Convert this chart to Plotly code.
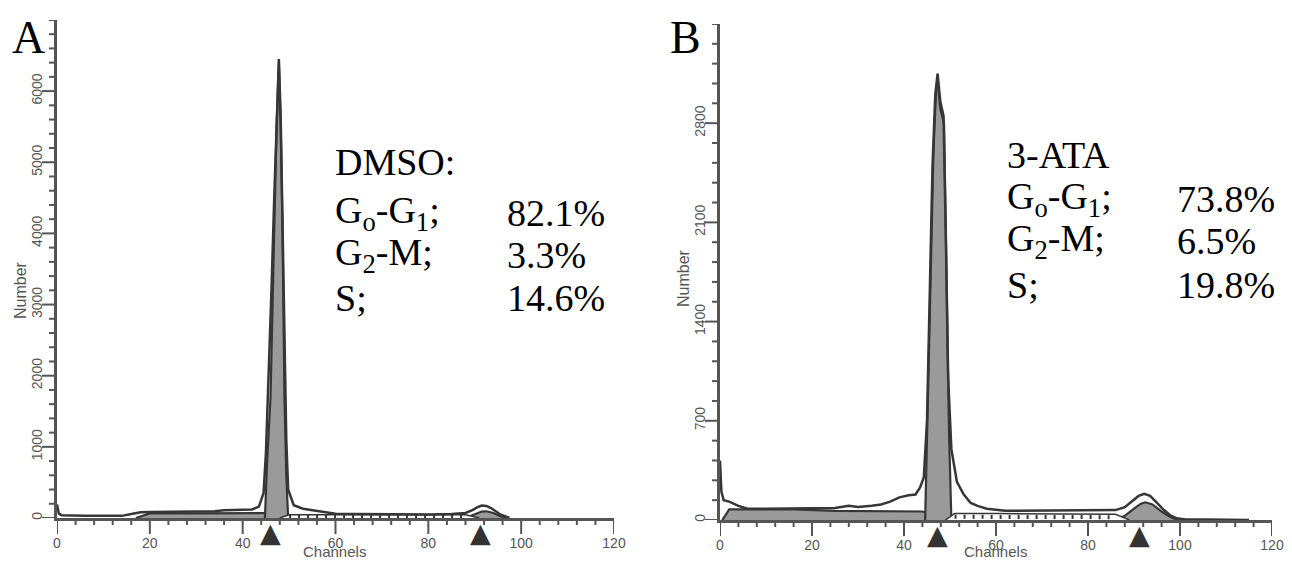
import plotly.graph_objects as go

# page body has an 8px margin: draw a figure that fits inside it
PAD = 8
W, H = 1292 - 2 * PAD, 568 - 2 * PAD

# ---------------- Panel A (DMSO) ----------------
A_env_ch = [0, 0.4, 1, 3, 6, 10, 14, 16, 18, 20, 25, 30, 34, 36, 38, 40, 42, 43.5, 44.5, 45, 45.5, 46.2, 46.8,
            47.3, 47.8, 48.2, 48.6, 49, 49.4, 49.8, 51, 53, 55, 58, 60, 65, 70, 75, 80, 85, 88, 89.5, 90.5, 91.5,
            92.5, 93.5, 94.5, 95.5, 96.5, 97.5]
A_env = [190, 60, 40, 35, 30, 30, 30, 55, 80, 85, 85, 85, 95, 110, 115, 110, 120, 160, 350, 900, 1800, 3200, 4500,
         5600, 6450, 5600, 4200, 2600, 1100, 400, 180, 130, 110, 90, 60, 55, 50, 50, 50, 55, 70, 110, 150, 175,
         170, 140, 90, 50, 25, 0]
A_g1_ch = [44.8, 45.2, 46, 46.8, 47.3, 47.8, 48.2, 48.6, 49, 49.4, 49.8]
A_g1 = [0, 700, 1700, 4000, 5500, 6400, 5500, 4000, 1700, 600, 0]
A_s_ch = [17, 20, 30, 40, 46, 48]
A_s = [0, 65, 65, 70, 70, 0]
A_hatch_ch = [48, 50, 60, 70, 80, 88, 91]
A_hatch = [0, 45, 45, 45, 45, 45, 0]
A_g2_ch = [88, 90, 91.5, 92.5, 94, 95.5, 97]
A_g2 = [0, 50, 90, 95, 70, 25, 0]
A_markers = [45.9, 91.3]
A_ymax = 7000
A_ystep, A_yminor = 1000, 200

# ---------------- Panel B (3-ATA) ----------------
B_env_ch = [0, 0.3, 0.8, 2, 4, 6, 10, 15, 20, 25, 28, 30, 33, 35, 37, 39, 41, 42.5, 43.5, 44.3, 45, 45.6, 46.2,
            46.8, 47.3, 47.9, 48.6, 49.1, 49.6, 50.3, 51.5, 53, 54.5, 56, 58, 62, 70, 80, 86, 88, 89.5, 91, 92.2,
            93.5, 95, 96.5, 98, 99.5, 101, 105, 110, 115]
B_env = [420, 200, 140, 130, 100, 80, 80, 80, 80, 85, 100, 92, 100, 110, 130, 160, 175, 180, 230, 300, 700, 1600,
         2500, 3000, 3150, 2950, 2850, 2000, 1000, 500, 270, 180, 120, 100, 80, 65, 65, 65, 70, 90, 130, 170, 185,
         170, 120, 70, 30, 10, 5, 5, 5, 0]
B_g1_ch = [44.6, 45.2, 45.8, 46.4, 47, 47.3, 47.9, 48.7, 49.2, 49.8, 50.3]
B_g1 = [0, 800, 1700, 2600, 3050, 3100, 2900, 2800, 1800, 600, 0]
B_s_ch = [0.5, 2, 10, 16, 25, 35, 44, 48, 51]
B_s = [0, 75, 75, 75, 65, 65, 60, 30, 0]
B_hatch_ch = [49, 51, 60, 70, 80, 86, 89]
B_hatch = [0, 45, 45, 45, 45, 40, 0]
B_g2_ch = [86, 88, 90, 91.5, 92.5, 94, 96, 98, 99.5]
B_g2 = [0, 30, 80, 115, 125, 110, 60, 20, 0]
B_markers = [47.2, 91.3]
B_ymax = 3500
B_ystep, B_yminor = 700, 140

x_max, x_step, x_minor = 120, 20, 4

A_text = ["DMSO:", "G<sub>o</sub>-G<sub>1</sub>;", "G<sub>2</sub>-M;", "S;"]
A_vals = ["", "82.1%", "3.3%", "14.6%"]
B_text = ["3-ATA", "G<sub>o</sub>-G<sub>1</sub>;", "G<sub>2</sub>-M;", "S;"]
B_vals = ["", "73.8%", "6.5%", "19.8%"]

FILL = "#9a9a9a"
LINE = "#363636"
AX = "#555555"

fig = go.Figure()
annotations = []
shapes = []


def add_panel(xa, ya, env_ch, env, g1_ch, g1, s_ch, s, h_ch, h, g2_ch, g2, marks):
    common = dict(xaxis=xa, yaxis=ya)
    for ch, v in ((s_ch, s), (g1_ch, g1), (g2_ch, g2)):
        fig.add_trace(go.Scatter(x=ch, y=v, mode="lines", fill="tozeroy", fillcolor=FILL,
                                 line=dict(color=LINE, width=2.2), **common))
    # hatched S-phase band: white band with short vertical dashes
    fig.add_trace(go.Scatter(x=h_ch, y=h, mode="lines", fill="tozeroy", fillcolor="white",
                             line=dict(color=LINE, width=1.5), **common))
    fig.add_trace(go.Scatter(x=h_ch[1:-1], y=[v / 2 for v in h[1:-1]], mode="lines",
                             line=dict(color=LINE, width=4, dash="2px,7px"), **common))
    fig.add_trace(go.Scatter(x=env_ch, y=env, mode="lines", line=dict(color=LINE, width=2.5), **common))
    # gate markers below the channel axis
    for m in marks:
        annotations.append(dict(x=m, y=0, xref=xa, yref=ya, text="▲", showarrow=False, xanchor="center",
                                yanchor="top", yshift=3,
                                font=dict(family="DejaVu Sans", size=27, color="#333333")))


def add_ticks(xa, ya, ymax, ystep, yminor):
    # x-axis tick marks (pixel-sized, anchored at the bottom of the y domain)
    n = int(round(x_max / x_minor))
    for i in range(n + 1):
        v = i * x_minor
        major = (v % x_step) == 0
        shapes.append(dict(type="line", xref=xa, yref=ya + " domain", ysizemode="pixel", yanchor=0,
                           x0=v, x1=v, y0=0, y1=-(16 if major else 7),
                           line=dict(color=AX, width=2)))
    # y-axis tick marks (pixel-sized, anchored at the left of the x domain)
    n = int(round(ymax / yminor))
    for i in range(n + 1):
        v = i * yminor
        major = (i * yminor) % ystep == 0 and v < ymax
        shapes.append(dict(type="line", xref=xa + " domain", yref=ya, xsizemode="pixel", xanchor=0,
                           y0=v, y1=v, x0=0, x1=-(15 if major else 8),
                           line=dict(color=AX, width=2)))


add_panel("x", "y", A_env_ch, A_env, A_g1_ch, A_g1, A_s_ch, A_s, A_hatch_ch, A_hatch, A_g2_ch, A_g2, A_markers)
add_panel("x2", "y2", B_env_ch, B_env, B_g1_ch, B_g1, B_s_ch, B_s, B_hatch_ch, B_hatch, B_g2_ch, B_g2, B_markers)
add_ticks("x", "y", A_ymax, A_ystep, A_yminor)
add_ticks("x2", "y2", B_ymax, B_ystep, B_yminor)


def px(x):
    return (x - PAD) / W


def py(y):
    return 1 - (y - PAD) / H


tickfont = dict(family="Liberation Sans, Arial, sans-serif", size=14, color=AX)
NOTICK = "rgba(0,0,0,0)"


def xaxis(dom, anchor):
    return dict(domain=dom, anchor=anchor, range=[0, x_max], tickmode="linear", tick0=0, dtick=x_step,
                showline=True, linecolor=AX, linewidth=2.5,
                ticks="outside", ticklen=15, tickwidth=1, tickcolor=NOTICK, tickfont=tickfont, showgrid=False,
                zeroline=False, automargin=False, ticklabelstandoff=-5)


def yaxis(dom, anchor, ymax, step):
    return dict(domain=dom, anchor=anchor, range=[0, ymax * 0.9999], tickmode="linear", tick0=0, dtick=step,
                showline=True, linecolor=AX, linewidth=2.5, ticks="outside", ticklen=14, tickwidth=1,
                tickcolor=NOTICK, tickfont=tickfont, tickangle=-90, showgrid=False, zeroline=False,
                automargin=False, ticklabelstandoff=-7)


serif = "Liberation Serif"
annotations.append(dict(x=px(10), y=py(37), text="A", showarrow=False, xanchor="left", yanchor="middle",
                        font=dict(family=serif, size=46, color="black"), xref="paper", yref="paper"))
annotations.append(dict(x=px(668), y=py(37), text="B", showarrow=False, xanchor="left", yanchor="middle",
                        font=dict(family=serif, size=46, color="black"), xref="paper", yref="paper"))
for cx, cy, t in ((20, 290, "Number"), (683, 278, "Number")):
    annotations.append(dict(x=px(cx), y=py(cy), text=t, showarrow=False, textangle=-90, xref="paper",
                            yref="paper", xanchor="center", yanchor="middle",
                            font=dict(family="Liberation Sans, Arial, sans-serif", size=16, color=AX)))
for cx, cy in ((335, 551), (995, 551)):
    annotations.append(dict(x=px(cx), y=py(cy), text="Channels", showarrow=False, xref="paper", yref="paper",
                            xanchor="center", yanchor="middle",
                            font=dict(family="Liberation Sans, Arial, sans-serif", size=15, color=AX)))

A_rows = [162, 213, 255, 298]
B_rows = [155, 199, 241, 285]
for rows, labels, vals, x0, x1 in ((A_rows, A_text, A_vals, 333, 505), (B_rows, B_text, B_vals, 1005, 1175)):
    for yy, lab, val in zip(rows, labels, vals):
        annotations.append(dict(x=px(x0), y=py(yy), text=lab, showarrow=False, xanchor="left", yanchor="middle",
                                xref="paper", yref="paper", font=dict(family=serif, size=38, color="black")))
        if val:
            annotations.append(dict(x=px(x1), y=py(yy), text=val, showarrow=False, xanchor="left",
                                    yanchor="middle", xref="paper", yref="paper",
                                    font=dict(family=serif, size=38, color="black")))

fig.update_layout(
    width=W, height=H, margin=dict(l=0, r=0, t=0, b=0, autoexpand=False),
    plot_bgcolor="white", paper_bgcolor="white", showlegend=False, hovermode=False,
    xaxis=xaxis([px(57), px(614)], "y"),
    yaxis=yaxis([py(518), py(20)], "x", A_ymax, A_ystep),
    xaxis2=xaxis([px(720), px(1272)], "y2"),
    yaxis2=yaxis([py(520), py(24)], "x2", B_ymax, B_ystep),
    annotations=annotations,
    shapes=shapes,
)

fig.write_html("out.html")
